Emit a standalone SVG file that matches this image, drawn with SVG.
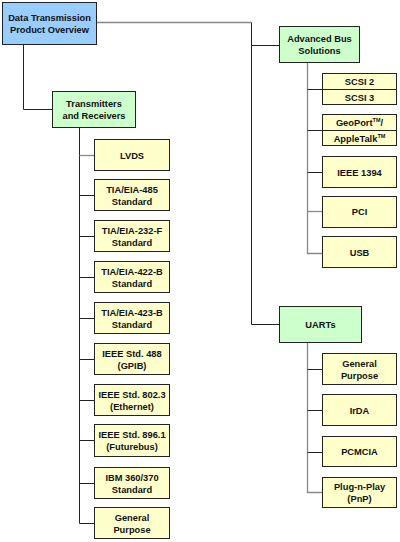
<svg xmlns="http://www.w3.org/2000/svg" width="400" height="542" viewBox="0 0 400 542">
<style>
.box{stroke:#222;stroke-width:1}
.root{fill:#99ccff}
.grp{fill:#ccffcc}
.leaf{fill:#ffffcc}
text{font-family:"Liberation Sans",Arial,sans-serif;font-size:9.3px;font-weight:bold;fill:#111;text-anchor:middle}
.tm{font-size:5.5px}
.k{fill:none;stroke:#222;stroke-width:1}
.g{fill:none;stroke:#888;stroke-width:1.3}
</style>
<rect width="400" height="542" fill="#fff"/>
<g id="connectors">
<path class="g" d="M97 22.5H251.5"/>
<path class="k" d="M251.5 22.5V324.5H279"/>
<path class="k" d="M251.5 45.5H279"/>
<path class="k" d="M23.5 45V109.5H52"/>
<path class="k" d="M79.5 128V523.5H94"/>
<path class="g" d="M79.5 155.5H94"/>
<path class="k" d="M79.5 195.5H94M79.5 236.5H94M79.5 277.5H94M79.5 318.5H94M79.5 359.5H94M79.5 400.5H94M79.5 440.5H94M79.5 483.5H94"/>
<path class="g" d="M307.5 63V253.5H322"/>
<path class="k" d="M307.5 89.5H322M307.5 130.5H322M307.5 172.5H322"/>
<path class="g" d="M307.5 211.5H322"/>
<path class="g" d="M307.5 343V492.5H322"/>
<path class="k" d="M307.5 369.5H322M307.5 410.5H322M307.5 452.5H322"/>
</g>
<g id="root"><rect class="box root" x="2.5" y="2.5" width="94" height="42"/><text x="49.5" y="20.5">Data Transmission</text><text x="49.5" y="32.5">Product Overview</text></g>
<g id="transmitters"><rect class="box grp" x="52.5" y="91.5" width="83" height="36"/><text x="94" y="106.5">Transmitters</text><text x="94" y="118.5">and Receivers</text></g>
<g id="advbus"><rect class="box grp" x="279.5" y="26.5" width="80" height="36"/><text x="319.5" y="41.5">Advanced Bus</text><text x="319.5" y="53.5">Solutions</text></g>
<g id="uarts"><rect class="box grp" x="279.5" y="306.5" width="82" height="36"/><text x="320.5" y="328">UARTs</text></g>
<g id="lvds"><rect class="box leaf" x="94.5" y="139.5" width="75" height="31"/><text x="132" y="158.5">LVDS</text></g>
<g id="tia485"><rect class="box leaf" x="94.5" y="179.5" width="75" height="31"/><text x="132" y="192.5">TIA/EIA-485</text><text x="132" y="204.5">Standard</text></g>
<g id="tia232"><rect class="box leaf" x="94.5" y="220.5" width="75" height="31"/><text x="132" y="233.5">TIA/EIA-232-F</text><text x="132" y="245.5">Standard</text></g>
<g id="tia422"><rect class="box leaf" x="94.5" y="261.5" width="75" height="31"/><text x="132" y="274.5">TIA/EIA-422-B</text><text x="132" y="286.5">Standard</text></g>
<g id="tia423"><rect class="box leaf" x="94.5" y="302.5" width="75" height="31"/><text x="132" y="315.5">TIA/EIA-423-B</text><text x="132" y="327.5">Standard</text></g>
<g id="ieee488"><rect class="box leaf" x="94.5" y="343.5" width="75" height="31"/><text x="132" y="356.5">IEEE Std. 488</text><text x="132" y="368.5">(GPIB)</text></g>
<g id="ieee8023"><rect class="box leaf" x="94.5" y="384.5" width="75" height="31"/><text x="132" y="397.5">IEEE Std. 802.3</text><text x="132" y="409.5">(Ethernet)</text></g>
<g id="ieee8961"><rect class="box leaf" x="94.5" y="424.5" width="75" height="32"/><text x="132" y="438">IEEE Std. 896.1</text><text x="132" y="450">(Futurebus)</text></g>
<g id="ibm"><rect class="box leaf" x="94.5" y="467.5" width="75" height="31"/><text x="132" y="480.5">IBM 360/370</text><text x="132" y="492.5">Standard</text></g>
<g id="general1"><rect class="box leaf" x="94.5" y="507.5" width="75" height="31"/><text x="132" y="520.5">General</text><text x="132" y="532.5">Purpose</text></g>
<g id="scsi"><rect class="box leaf" x="322.5" y="73.5" width="74" height="31"/><line class="k" x1="322.5" y1="89.5" x2="396.5" y2="89.5"/><text x="359.5" y="84.5">SCSI 2</text><text x="359.5" y="100.5">SCSI 3</text></g>
<g id="geoport"><rect class="box leaf" x="322.5" y="114.5" width="74" height="31"/><line class="k" x1="322.5" y1="130.5" x2="396.5" y2="130.5"/><text x="359.5" y="125.5">GeoPort<tspan class="tm" dy="-3.5">TM</tspan><tspan dy="3.5">/</tspan></text><text x="359.5" y="141.5">AppleTalk<tspan class="tm" dy="-3.5">TM</tspan></text></g>
<g id="ieee1394"><rect class="box leaf" x="322.5" y="156.5" width="74" height="31"/><text x="359.5" y="175.5">IEEE 1394</text></g>
<g id="pci"><rect class="box leaf" x="322.5" y="196.5" width="74" height="31"/><text x="359.5" y="215">PCI</text></g>
<g id="usb"><rect class="box leaf" x="322.5" y="236.5" width="74" height="31"/><text x="359.5" y="255.5">USB</text></g>
<g id="general2"><rect class="box leaf" x="322.5" y="353.5" width="74" height="31"/><text x="359.5" y="366.5">General</text><text x="359.5" y="378.5">Purpose</text></g>
<g id="irda"><rect class="box leaf" x="322.5" y="394.5" width="74" height="31"/><text x="359.5" y="413.5">IrDA</text></g>
<g id="pcmcia"><rect class="box leaf" x="322.5" y="436.5" width="74" height="30"/><text x="359.5" y="455">PCMCIA</text></g>
<g id="pnp"><rect class="box leaf" x="322.5" y="477.5" width="74" height="30"/><text x="359.5" y="490">Plug-n-Play</text><text x="359.5" y="502">(PnP)</text></g>
</svg>
